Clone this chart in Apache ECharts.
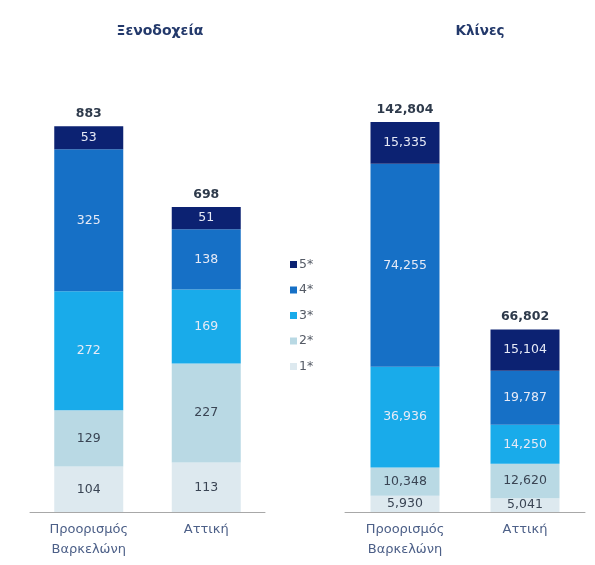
<!DOCTYPE html>
<html>
<head>
<meta charset="utf-8">
<script src="https://cdn.jsdelivr.net/npm/echarts@6/dist/echarts.min.js"></script>
<style>
  html, body { margin: 0; padding: 0; background: #fff; }
  #chart { width: 595px; height: 565px; }
</style>
</head>
<body>
<div id="chart"></div>
<script>
// categories
var categories = ['Προορισμός\nΒαρκελώνη', 'Αττική'];
var starNames = ['5*', '4*', '3*', '2*', '1*'];

// hotels (Ξενοδοχεία)
var hotels5 = [53, 51];
var hotels4 = [325, 138];
var hotels3 = [272, 169];
var hotels2 = [129, 227];
var hotels1 = [104, 113];
var hotelsTotal = [883, 698];

// beds (Κλίνες)
var beds5 = [15335, 15104];
var beds4 = [74255, 19787];
var beds3 = [36936, 14250];
var beds2 = [10348, 12620];
var beds1 = [5930, 5041];
var bedsTotal = [142804, 66802];

var FONT = 'DejaVu Sans, Verdana, sans-serif';

var colors = {
  '5*': '#0c2272',
  '4*': '#1670c6',
  '3*': '#19abea',
  '2*': '#b9d9e4',
  '1*': '#dde9ef'
};
var lightText = { '5*': true, '4*': true, '3*': true, '2*': false, '1*': false };

function fmt(v) {
  return v.toLocaleString('en-US');
}

function stackSeries(idx, name, data) {
  return {
    name: name,
    type: 'bar',
    stack: 's' + idx,
    xAxisIndex: idx,
    yAxisIndex: idx,
    barWidth: 69,
    data: data,
    itemStyle: { color: colors[name] },
    label: {
      show: true,
      position: 'inside',
      fontFamily: FONT,
      fontSize: 12.5,
      color: lightText[name] ? '#e6eaf6' : '#3a4554',
      formatter: function (p) { return fmt(p.value); }
    }
  };
}

function totalSeries(idx, totals) {
  return {
    name: 'total',
    type: 'bar',
    stack: 's' + idx,
    xAxisIndex: idx,
    yAxisIndex: idx,
    barWidth: 69,
    data: [0, 0],
    itemStyle: { color: 'transparent' },
    label: {
      show: true,
      position: 'top',
      distance: 6,
      fontFamily: FONT,
      fontSize: 12.5,
      fontWeight: 'bold',
      color: '#2e3a4b',
      formatter: function (p) { return fmt(totals[p.dataIndex]); }
    }
  };
}

var series = [];
var hotelSets = [hotels5, hotels4, hotels3, hotels2, hotels1];
var bedSets = [beds5, beds4, beds3, beds2, beds1];
// bottom-up: 1* first
for (var i = starNames.length - 1; i >= 0; i--) {
  series.push(stackSeries(0, starNames[i], hotelSets[i]));
}
series.push(totalSeries(0, hotelsTotal));
for (var j = starNames.length - 1; j >= 0; j--) {
  series.push(stackSeries(1, starNames[j], bedSets[j]));
}
series.push(totalSeries(1, bedsTotal));

function xAxisCfg(idx) {
  return {
    type: 'category',
    gridIndex: idx,
    data: categories,
    axisLine: { lineStyle: { color: '#a8a8a8', width: 1 } },
    axisTick: { show: false },
    axisLabel: {
      margin: 8,
      fontFamily: FONT,
      fontSize: 13,
      lineHeight: 20,
      color: '#4d6088'
    }
  };
}

var chart = echarts.init(document.getElementById('chart'));
chart.setOption({
  animation: false,
  title: [
    {
      text: 'Ξενοδοχεία', left: 155, top: 19, textAlign: 'center',
      textStyle: { fontFamily: FONT, fontSize: 14, fontWeight: 'bold', color: '#23396b' }
    },
    {
      text: 'Κλίνες', left: 475, top: 19, textAlign: 'center',
      textStyle: { fontFamily: FONT, fontSize: 13.5, fontWeight: 'bold', color: '#23396b' }
    }
  ],
  legend: {
    data: starNames,
    orient: 'vertical',
    left: 285,
    top: 253,
    itemWidth: 7,
    itemHeight: 7,
    itemGap: 12.5,
    icon: 'rect',
    textStyle: { fontFamily: FONT, fontSize: 12.5, color: '#555b66', padding: [0, 0, 0, -3] }
  },
  grid: [
    { left: 30, right: 330, top: 75, bottom: 53 },
    { left: 345, right: 10, top: 75, bottom: 53 }
  ],
  xAxis: [xAxisCfg(0), xAxisCfg(1)],
  yAxis: [
    { type: 'value', gridIndex: 0, min: 0, max: 1000, show: false },
    { type: 'value', gridIndex: 1, min: 0, max: 160000, show: false }
  ],
  series: series
});
</script>
</body>
</html>
